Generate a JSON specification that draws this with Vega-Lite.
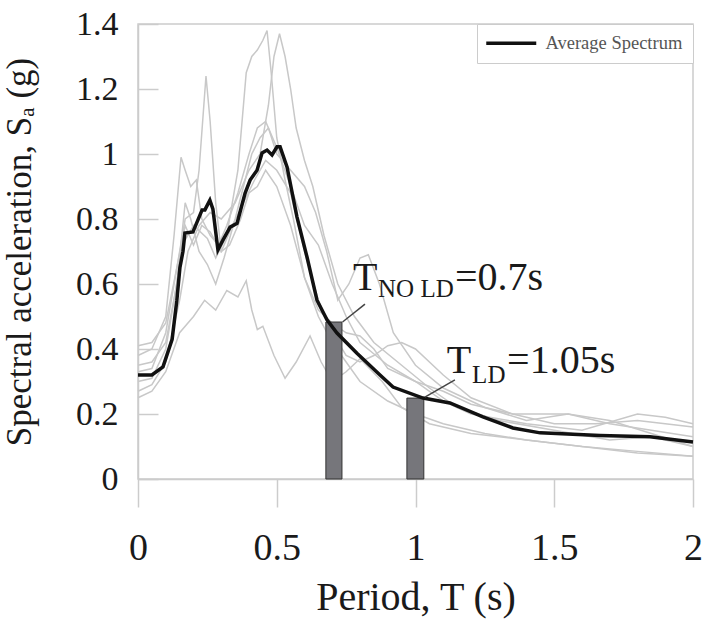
{
  "$schema": "https://vega.github.io/schema/vega-lite/v6.json",
  "width": 555,
  "height": 455,
  "autosize": {"type": "none"},
  "padding": {"left": 138, "top": 24, "right": 12, "bottom": 143},
  "background": "white",
  "config": {
    "font": "Liberation Serif, Times New Roman, DejaVu Serif, serif",
    "view": {"stroke": "#cccccc", "strokeWidth": 1.5},
    "axis": {"grid": false, "domainColor": "#cccccc", "domainWidth": 1.5, "tickColor": "#cccccc", "tickWidth": 1.5, "labelColor": "#1a1a1a", "titleColor": "#1a1a1a", "labelFont": "Liberation Serif, Times New Roman, DejaVu Serif, serif", "titleFont": "Liberation Serif, Times New Roman, DejaVu Serif, serif", "titleFontWeight": "normal"}
  },
  "datasets": {
    "avg": [
      {"T":0,"Sa":0.32},{"T":0.05,"Sa":0.32},{"T":0.09,"Sa":0.345},{"T":0.123,"Sa":0.43},{"T":0.14,"Sa":0.55},{"T":0.151,"Sa":0.65},{"T":0.162,"Sa":0.70},{"T":0.169,"Sa":0.757},{"T":0.198,"Sa":0.76},{"T":0.231,"Sa":0.828},{"T":0.241,"Sa":0.828},{"T":0.259,"Sa":0.858},{"T":0.27,"Sa":0.83},{"T":0.288,"Sa":0.705},{"T":0.306,"Sa":0.735},{"T":0.332,"Sa":0.775},{"T":0.357,"Sa":0.787},{"T":0.386,"Sa":0.88},{"T":0.404,"Sa":0.92},{"T":0.429,"Sa":0.95},{"T":0.447,"Sa":1.003},{"T":0.465,"Sa":1.012},{"T":0.483,"Sa":0.997},{"T":0.501,"Sa":1.022},{"T":0.512,"Sa":1.022},{"T":0.537,"Sa":0.96},{"T":0.573,"Sa":0.806},{"T":0.609,"Sa":0.683},{"T":0.645,"Sa":0.55},{"T":0.681,"Sa":0.49},{"T":0.717,"Sa":0.449},{"T":0.789,"Sa":0.387},{"T":0.872,"Sa":0.32},{"T":0.919,"Sa":0.283},{"T":1.027,"Sa":0.249},{"T":1.124,"Sa":0.234},{"T":1.243,"Sa":0.191},{"T":1.351,"Sa":0.157},{"T":1.449,"Sa":0.142},{"T":1.665,"Sa":0.134},{"T":1.845,"Sa":0.13},{"T":2.0,"Sa":0.114}
    ],
    "records": [
      {"s":"S1","T":0,"Sa":0.30},{"s":"S1","T":0.05,"Sa":0.31},{"s":"S1","T":0.1,"Sa":0.40},{"s":"S1","T":0.13,"Sa":0.55},{"s":"S1","T":0.16,"Sa":0.72},{"s":"S1","T":0.2,"Sa":0.78},{"s":"S1","T":0.25,"Sa":0.74},{"s":"S1","T":0.28,"Sa":0.68},{"s":"S1","T":0.32,"Sa":0.75},{"s":"S1","T":0.36,"Sa":0.95},{"s":"S1","T":0.39,"Sa":1.25},{"s":"S1","T":0.41,"Sa":1.30},{"s":"S1","T":0.43,"Sa":1.32},{"s":"S1","T":0.45,"Sa":1.35},{"s":"S1","T":0.465,"Sa":1.38},{"s":"S1","T":0.48,"Sa":1.25},{"s":"S1","T":0.5,"Sa":1.05},{"s":"S1","T":0.53,"Sa":0.92},{"s":"S1","T":0.56,"Sa":0.8},{"s":"S1","T":0.6,"Sa":0.62},{"s":"S1","T":0.65,"Sa":0.5},{"s":"S1","T":0.7,"Sa":0.42},{"s":"S1","T":0.75,"Sa":0.36},{"s":"S1","T":0.8,"Sa":0.3},{"s":"S1","T":0.9,"Sa":0.24},{"s":"S1","T":1.0,"Sa":0.2},{"s":"S1","T":1.1,"Sa":0.17},{"s":"S1","T":1.25,"Sa":0.14},{"s":"S1","T":1.4,"Sa":0.12},{"s":"S1","T":1.6,"Sa":0.1},{"s":"S1","T":1.8,"Sa":0.085},{"s":"S1","T":2.0,"Sa":0.07},
      {"s":"S2","T":0,"Sa":0.27},{"s":"S2","T":0.05,"Sa":0.29},{"s":"S2","T":0.1,"Sa":0.36},{"s":"S2","T":0.15,"Sa":0.55},{"s":"S2","T":0.18,"Sa":0.7},{"s":"S2","T":0.22,"Sa":0.78},{"s":"S2","T":0.26,"Sa":0.82},{"s":"S2","T":0.3,"Sa":0.8},{"s":"S2","T":0.35,"Sa":0.85},{"s":"S2","T":0.4,"Sa":0.95},{"s":"S2","T":0.44,"Sa":1.0},{"s":"S2","T":0.47,"Sa":1.15},{"s":"S2","T":0.49,"Sa":1.3},{"s":"S2","T":0.51,"Sa":1.37},{"s":"S2","T":0.53,"Sa":1.3},{"s":"S2","T":0.55,"Sa":1.2},{"s":"S2","T":0.57,"Sa":1.08},{"s":"S2","T":0.6,"Sa":0.98},{"s":"S2","T":0.63,"Sa":0.9},{"s":"S2","T":0.67,"Sa":0.75},{"s":"S2","T":0.72,"Sa":0.6},{"s":"S2","T":0.78,"Sa":0.5},{"s":"S2","T":0.85,"Sa":0.42},{"s":"S2","T":0.95,"Sa":0.35},{"s":"S2","T":1.05,"Sa":0.28},{"s":"S2","T":1.15,"Sa":0.22},{"s":"S2","T":1.3,"Sa":0.18},{"s":"S2","T":1.5,"Sa":0.15},{"s":"S2","T":1.7,"Sa":0.12},{"s":"S2","T":1.85,"Sa":0.13},{"s":"S2","T":2.0,"Sa":0.1},
      {"s":"S3","T":0,"Sa":0.33},{"s":"S3","T":0.05,"Sa":0.34},{"s":"S3","T":0.1,"Sa":0.45},{"s":"S3","T":0.14,"Sa":0.65},{"s":"S3","T":0.17,"Sa":0.8},{"s":"S3","T":0.2,"Sa":0.82},{"s":"S3","T":0.22,"Sa":0.95},{"s":"S3","T":0.245,"Sa":1.24},{"s":"S3","T":0.26,"Sa":1.1},{"s":"S3","T":0.28,"Sa":0.85},{"s":"S3","T":0.3,"Sa":0.7},{"s":"S3","T":0.33,"Sa":0.72},{"s":"S3","T":0.37,"Sa":0.8},{"s":"S3","T":0.4,"Sa":0.88},{"s":"S3","T":0.43,"Sa":0.9},{"s":"S3","T":0.46,"Sa":0.95},{"s":"S3","T":0.5,"Sa":0.9},{"s":"S3","T":0.55,"Sa":0.78},{"s":"S3","T":0.6,"Sa":0.62},{"s":"S3","T":0.65,"Sa":0.52},{"s":"S3","T":0.7,"Sa":0.48},{"s":"S3","T":0.75,"Sa":0.45},{"s":"S3","T":0.8,"Sa":0.44},{"s":"S3","T":0.85,"Sa":0.4},{"s":"S3","T":0.9,"Sa":0.34},{"s":"S3","T":1.0,"Sa":0.3},{"s":"S3","T":1.1,"Sa":0.24},{"s":"S3","T":1.2,"Sa":0.2},{"s":"S3","T":1.4,"Sa":0.17},{"s":"S3","T":1.6,"Sa":0.15},{"s":"S3","T":1.8,"Sa":0.2},{"s":"S3","T":1.9,"Sa":0.19},{"s":"S3","T":2.0,"Sa":0.17},
      {"s":"S4","T":0,"Sa":0.38},{"s":"S4","T":0.05,"Sa":0.40},{"s":"S4","T":0.1,"Sa":0.5},{"s":"S4","T":0.13,"Sa":0.75},{"s":"S4","T":0.155,"Sa":0.99},{"s":"S4","T":0.17,"Sa":0.95},{"s":"S4","T":0.19,"Sa":0.9},{"s":"S4","T":0.21,"Sa":0.92},{"s":"S4","T":0.23,"Sa":0.8},{"s":"S4","T":0.26,"Sa":0.75},{"s":"S4","T":0.29,"Sa":0.72},{"s":"S4","T":0.32,"Sa":0.78},{"s":"S4","T":0.36,"Sa":0.88},{"s":"S4","T":0.4,"Sa":1.0},{"s":"S4","T":0.43,"Sa":1.08},{"s":"S4","T":0.46,"Sa":1.1},{"s":"S4","T":0.5,"Sa":1.02},{"s":"S4","T":0.55,"Sa":0.9},{"s":"S4","T":0.6,"Sa":0.78},{"s":"S4","T":0.65,"Sa":0.72},{"s":"S4","T":0.7,"Sa":0.6},{"s":"S4","T":0.75,"Sa":0.5},{"s":"S4","T":0.8,"Sa":0.42},{"s":"S4","T":0.9,"Sa":0.35},{"s":"S4","T":1.0,"Sa":0.3},{"s":"S4","T":1.1,"Sa":0.27},{"s":"S4","T":1.2,"Sa":0.23},{"s":"S4","T":1.35,"Sa":0.2},{"s":"S4","T":1.55,"Sa":0.2},{"s":"S4","T":1.7,"Sa":0.17},{"s":"S4","T":1.85,"Sa":0.15},{"s":"S4","T":2.0,"Sa":0.13},
      {"s":"S5","T":0,"Sa":0.25},{"s":"S5","T":0.05,"Sa":0.27},{"s":"S5","T":0.1,"Sa":0.33},{"s":"S5","T":0.15,"Sa":0.45},{"s":"S5","T":0.2,"Sa":0.5},{"s":"S5","T":0.24,"Sa":0.55},{"s":"S5","T":0.28,"Sa":0.52},{"s":"S5","T":0.32,"Sa":0.58},{"s":"S5","T":0.36,"Sa":0.56},{"s":"S5","T":0.39,"Sa":0.61},{"s":"S5","T":0.41,"Sa":0.52},{"s":"S5","T":0.43,"Sa":0.46},{"s":"S5","T":0.45,"Sa":0.47},{"s":"S5","T":0.49,"Sa":0.38},{"s":"S5","T":0.53,"Sa":0.31},{"s":"S5","T":0.57,"Sa":0.36},{"s":"S5","T":0.62,"Sa":0.44},{"s":"S5","T":0.66,"Sa":0.36},{"s":"S5","T":0.7,"Sa":0.3},{"s":"S5","T":0.75,"Sa":0.33},{"s":"S5","T":0.8,"Sa":0.37},{"s":"S5","T":0.88,"Sa":0.3},{"s":"S5","T":0.95,"Sa":0.22},{"s":"S5","T":1.05,"Sa":0.17},{"s":"S5","T":1.2,"Sa":0.14},{"s":"S5","T":1.4,"Sa":0.12},{"s":"S5","T":1.6,"Sa":0.1},{"s":"S5","T":1.8,"Sa":0.08},{"s":"S5","T":2.0,"Sa":0.07},
      {"s":"S6","T":0,"Sa":0.35},{"s":"S6","T":0.05,"Sa":0.36},{"s":"S6","T":0.1,"Sa":0.42},{"s":"S6","T":0.14,"Sa":0.6},{"s":"S6","T":0.17,"Sa":0.85},{"s":"S6","T":0.19,"Sa":0.8},{"s":"S6","T":0.22,"Sa":0.7},{"s":"S6","T":0.25,"Sa":0.66},{"s":"S6","T":0.28,"Sa":0.6},{"s":"S6","T":0.31,"Sa":0.68},{"s":"S6","T":0.35,"Sa":0.8},{"s":"S6","T":0.38,"Sa":0.9},{"s":"S6","T":0.41,"Sa":1.0},{"s":"S6","T":0.44,"Sa":1.05},{"s":"S6","T":0.47,"Sa":1.08},{"s":"S6","T":0.5,"Sa":1.0},{"s":"S6","T":0.55,"Sa":0.95},{"s":"S6","T":0.6,"Sa":0.9},{"s":"S6","T":0.64,"Sa":0.82},{"s":"S6","T":0.68,"Sa":0.7},{"s":"S6","T":0.72,"Sa":0.55},{"s":"S6","T":0.76,"Sa":0.6},{"s":"S6","T":0.8,"Sa":0.68},{"s":"S6","T":0.83,"Sa":0.69},{"s":"S6","T":0.87,"Sa":0.6},{"s":"S6","T":0.92,"Sa":0.45},{"s":"S6","T":1.0,"Sa":0.35},{"s":"S6","T":1.1,"Sa":0.28},{"s":"S6","T":1.25,"Sa":0.22},{"s":"S6","T":1.4,"Sa":0.18},{"s":"S6","T":1.55,"Sa":0.2},{"s":"S6","T":1.7,"Sa":0.18},{"s":"S6","T":1.85,"Sa":0.14},{"s":"S6","T":2.0,"Sa":0.1},
      {"s":"S7","T":0,"Sa":0.41},{"s":"S7","T":0.05,"Sa":0.42},{"s":"S7","T":0.1,"Sa":0.48},{"s":"S7","T":0.14,"Sa":0.65},{"s":"S7","T":0.17,"Sa":0.78},{"s":"S7","T":0.2,"Sa":0.72},{"s":"S7","T":0.23,"Sa":0.78},{"s":"S7","T":0.26,"Sa":0.76},{"s":"S7","T":0.3,"Sa":0.7},{"s":"S7","T":0.34,"Sa":0.78},{"s":"S7","T":0.38,"Sa":0.85},{"s":"S7","T":0.42,"Sa":0.92},{"s":"S7","T":0.46,"Sa":0.98},{"s":"S7","T":0.5,"Sa":0.95},{"s":"S7","T":0.55,"Sa":0.88},{"s":"S7","T":0.6,"Sa":0.7},{"s":"S7","T":0.65,"Sa":0.55},{"s":"S7","T":0.7,"Sa":0.45},{"s":"S7","T":0.75,"Sa":0.38},{"s":"S7","T":0.8,"Sa":0.36},{"s":"S7","T":0.85,"Sa":0.38},{"s":"S7","T":0.9,"Sa":0.41},{"s":"S7","T":0.95,"Sa":0.42},{"s":"S7","T":1.0,"Sa":0.4},{"s":"S7","T":1.1,"Sa":0.32},{"s":"S7","T":1.2,"Sa":0.25},{"s":"S7","T":1.35,"Sa":0.2},{"s":"S7","T":1.5,"Sa":0.17},{"s":"S7","T":1.65,"Sa":0.17},{"s":"S7","T":1.8,"Sa":0.18},{"s":"S7","T":1.9,"Sa":0.17},{"s":"S7","T":2.0,"Sa":0.16}
    ],
    "bars": [
      {"T0":0.677,"T1":0.735,"Sa":0.483},
      {"T0":0.969,"T1":1.03,"Sa":0.249}
    ],
    "leaders": [
      {"T0":0.737,"S0":0.483,"T1":0.818,"S1":0.538},
      {"T0":1.034,"S0":0.252,"T1":1.142,"S1":0.305}
    ],
    "bigtext": [
      {"T":0.775,"Sa":0.582,"t":"T"},
      {"T":1.142,"Sa":0.582,"t":"=0.7s"},
      {"T":1.113,"Sa":0.326,"t":"T"},
      {"T":1.33,"Sa":0.326,"t":"=1.05s"}
    ],
    "subtext": [
      {"T":0.865,"Sa":0.56,"t":"NO LD"},
      {"T":1.204,"Sa":0.295,"t":"LD"}
    ]
  },
  "layer": [
    {
      "data": {"name": "records"},
      "mark": {"type": "line", "stroke": "#c8c8c8", "strokeWidth": 1.5},
      "encoding": {
        "x": {"field": "T", "type": "quantitative", "scale": {"domain": [0, 2], "nice": false},
          "axis": {"values": [0, 0.5, 1, 1.5, 2], "format": "~g", "labelFontSize": 38, "labelFlush": false, "labelOverlap": false, "tickSize": 28, "labelPadding": 22, "title": "Period, T (s)", "titleFontSize": 40, "titlePadding": 10}},
        "y": {"field": "Sa", "type": "quantitative", "scale": {"domain": [0, 1.4], "nice": false},
          "axis": {"values": [0, 0.2, 0.4, 0.6, 0.8, 1, 1.2, 1.4], "format": "~g", "labelFontSize": 34, "tickSize": -20, "labelPadding": 40, "title": "Spectral acceleration, Sₐ (g)", "titleFontSize": 35, "titlePadding": 38}},
        "detail": {"field": "s", "type": "nominal"}
      }
    },
    {
      "data": {"name": "bars"},
      "mark": {"type": "rect", "fill": "#76767b", "stroke": "#333333", "strokeWidth": 1},
      "encoding": {
        "x": {"field": "T0", "type": "quantitative"},
        "x2": {"field": "T1"},
        "y": {"field": "Sa", "type": "quantitative"},
        "y2": {"datum": 0}
      }
    },
    {
      "data": {"name": "avg"},
      "mark": {"type": "line", "strokeWidth": 3.5},
      "encoding": {
        "x": {"field": "T", "type": "quantitative"},
        "y": {"field": "Sa", "type": "quantitative"},
        "color": {"datum": "Average Spectrum", "type": "nominal", "scale": {"range": ["#111111"]},
          "legend": {"orient": "top-right", "offset": 0, "title": null, "padding": 10, "strokeColor": "#cccccc", "fillColor": "white", "symbolType": "M-5,0H5", "symbolSize": 100, "symbolStrokeWidth": 3.5, "symbolOffset": 15, "labelFontSize": 18.5, "labelColor": "#555555", "labelFont": "Liberation Serif, Times New Roman, DejaVu Serif, serif", "labelOffset": 25}}
      }
    },
    {
      "data": {"name": "leaders"},
      "mark": {"type": "rule", "stroke": "#444444", "strokeWidth": 1.5},
      "encoding": {
        "x": {"field": "T0", "type": "quantitative"},
        "y": {"field": "S0", "type": "quantitative"},
        "x2": {"field": "T1"},
        "y2": {"field": "S1"}
      }
    },
    {
      "data": {"name": "bigtext"},
      "mark": {"type": "text", "align": "left", "baseline": "alphabetic", "fontSize": 40, "font": "Liberation Serif, Times New Roman, DejaVu Serif, serif", "fill": "#1a1a1a"},
      "encoding": {
        "x": {"field": "T", "type": "quantitative"},
        "y": {"field": "Sa", "type": "quantitative"},
        "text": {"field": "t"}
      }
    },
    {
      "data": {"name": "subtext"},
      "mark": {"type": "text", "align": "left", "baseline": "alphabetic", "fontSize": 25, "font": "Liberation Serif, Times New Roman, DejaVu Serif, serif", "fill": "#1a1a1a"},
      "encoding": {
        "x": {"field": "T", "type": "quantitative"},
        "y": {"field": "Sa", "type": "quantitative"},
        "text": {"field": "t"}
      }
    }
  ]
}
